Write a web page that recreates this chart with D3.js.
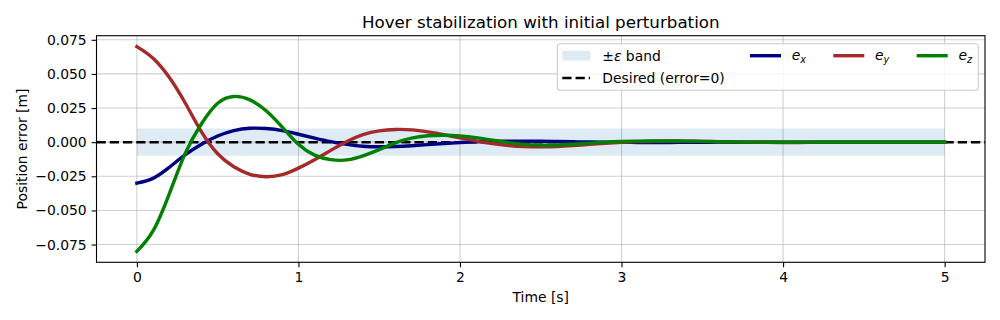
<!DOCTYPE html>
<html>
<head>
<meta charset="utf-8">
<script src="https://cdn.jsdelivr.net/npm/d3@7"></script>
<style>
  body { margin: 0; background: #fff; }
  svg { font-family: "DejaVu Sans", sans-serif; }
</style>
</head>
<body>
<svg id="chart" width="1000" height="320"></svg>
<script>
"use strict";

// time samples [s]
var times = d3.range(0, 51).map(function(i) { return i / 10; });

// position errors [m]
var ex = [-0.0300, -0.0265, -0.0185, -0.0092, -0.0015, 0.0045, 0.0085, 0.0102, 0.0100, 0.0085,
  0.0058, 0.0030, 0.0004, -0.0016, -0.0030, -0.0034, -0.0032, -0.0026, -0.0018, -0.0010,
  -0.0003, 0.0003, 0.0006, 0.0008, 0.0008, 0.0007, 0.0005, 0.0003, 0.0001, 0.0000,
  -0.0001, -0.0002, -0.0002, -0.0002, -0.0001, -0.0001, 0.0000, 0.0000, 0.0000, 0.0000,
  0.0000, 0.0000, 0.0000, 0.0000, 0.0000, 0.0000, 0.0000, 0.0000, 0.0000, 0.0000, 0.0000];

var ey = [0.0700, 0.0615, 0.0475, 0.0285, 0.0075, -0.0085, -0.0180, -0.0235, -0.0253, -0.0238,
  -0.0190, -0.0128, -0.0060, 0.0005, 0.0055, 0.0083, 0.0093, 0.0090, 0.0075, 0.0055,
  0.0032, 0.0010, -0.0010, -0.0024, -0.0032, -0.0034, -0.0032, -0.0025, -0.0016, -0.0008,
  -0.0001, 0.0004, 0.0007, 0.0008, 0.0008, 0.0006, 0.0004, 0.0002, 0.0000, -0.0001,
  -0.0002, -0.0002, -0.0001, -0.0001, 0.0000, 0.0000, 0.0000, 0.0000, 0.0000, 0.0000, 0.0000];

var ez = [-0.0800, -0.0650, -0.0380, -0.0080, 0.0135, 0.0285, 0.0335, 0.0310, 0.0230, 0.0110,
  -0.0015, -0.0095, -0.0128, -0.0130, -0.0100, -0.0055, -0.0005, 0.0030, 0.0047, 0.0051,
  0.0046, 0.0033, 0.0015, -0.0003, -0.0016, -0.0022, -0.0021, -0.0015, -0.0008, 0.0000,
  0.0005, 0.0008, 0.0009, 0.0009, 0.0008, 0.0006, 0.0004, 0.0002, 0.0001, 0.0000,
  -0.0001, 0.0000, 0.0000, 0.0000, 0.0000, 0.0000, 0.0000, 0.0000, 0.0000, 0.0000, 0.0000];

var epsilon = 0.01;
var xTicks = [0, 1, 2, 3, 4, 5];
var yTicks = [-0.075, -0.05, -0.025, 0, 0.025, 0.05, 0.075];

var seriesList = [
  {sub: "x", values: ex, color: "#000080"},
  {sub: "y", values: ey, color: "#a52a2a"},
  {sub: "z", values: ez, color: "#008000"}
];

var svg = d3.select("#chart");
var plotLeft = 96.5, plotRight = 985, plotTop = 35.7, plotBottom = 262.3;

var x = d3.scaleLinear().domain([-0.25, 5.25]).range([plotLeft, plotRight]);
var y = d3.scaleLinear().domain([-0.088, 0.078]).range([plotBottom, plotTop]);

// grid
var grid = svg.append("g");
grid.selectAll(".gx").data(xTicks).enter().append("line")
  .attr("x1", function(d) { return x(d); }).attr("x2", function(d) { return x(d); })
  .attr("y1", plotTop).attr("y2", plotBottom)
  .attr("stroke", "#b0b0b0").attr("stroke-opacity", 0.6).attr("stroke-width", 1.1);
grid.selectAll(".gy").data(yTicks).enter().append("line")
  .attr("x1", plotLeft).attr("x2", plotRight)
  .attr("y1", function(d) { return y(d); }).attr("y2", function(d) { return y(d); })
  .attr("stroke", "#b0b0b0").attr("stroke-opacity", 0.6).attr("stroke-width", 1.1);

// tolerance band
svg.append("rect")
  .attr("x", x(0)).attr("width", x(5) - x(0))
  .attr("y", y(epsilon)).attr("height", y(-epsilon) - y(epsilon))
  .attr("fill", "#1f77b4").attr("fill-opacity", 0.15);

// desired line
svg.append("line")
  .attr("x1", plotLeft).attr("x2", plotRight).attr("y1", y(0)).attr("y2", y(0))
  .attr("stroke", "#000").attr("stroke-width", 2.5).attr("stroke-dasharray", "9.25,4");

var line = d3.line()
  .x(function(d) { return x(d[0]); })
  .y(function(d) { return y(d[1]); })
  .curve(d3.curveNatural);

seriesList.forEach(function(s) {
  svg.append("path")
    .datum(times.map(function(t, i) { return [t, s.values[i]]; }))
    .attr("d", line)
    .attr("fill", "none")
    .attr("stroke", s.color)
    .attr("stroke-width", 3.4)
    .attr("stroke-linejoin", "round")
    .attr("stroke-linecap", "square");
});

// axes
var xAxis = svg.append("g").attr("transform", "translate(0," + plotBottom + ")")
  .call(d3.axisBottom(x).tickValues(xTicks).tickSize(4.9).tickPadding(4.9).tickFormat(d3.format("d")));
var yAxis = svg.append("g").attr("transform", "translate(" + plotLeft + ",0)")
  .call(d3.axisLeft(y).tickValues(yTicks).tickSize(4.9).tickPadding(4.9)
    .tickFormat(function(d) { return d3.format(".3f")(d).replace("-", "\u2212"); }));
[xAxis, yAxis].forEach(function(a) {
  a.select(".domain").remove();
  a.selectAll("line").attr("stroke", "#000").attr("stroke-width", 1.1);
  a.selectAll("text").attr("font-size", "13.9px").attr("fill", "#000")
    .attr("font-family", "DejaVu Sans, sans-serif");
});

svg.append("rect")
  .attr("x", plotLeft).attr("y", plotTop).attr("width", plotRight - plotLeft).attr("height", plotBottom - plotTop)
  .attr("fill", "none").attr("stroke", "#000").attr("stroke-width", 1.1);

// labels
svg.append("text").text("Hover stabilization with initial perturbation")
  .attr("x", (plotLeft + plotRight) / 2).attr("y", 28).attr("text-anchor", "middle")
  .attr("font-size", "16.7px");
svg.append("text").text("Time [s]")
  .attr("x", (plotLeft + plotRight) / 2).attr("y", 302).attr("text-anchor", "middle")
  .attr("font-size", "13.9px");
svg.append("text").text("Position error [m]")
  .attr("transform", "translate(27," + ((plotTop + plotBottom) / 2) + ") rotate(-90)")
  .attr("text-anchor", "middle").attr("font-size", "13.9px");

// legend
var lg = svg.append("g");
lg.append("rect")
  .attr("x", 557.3).attr("y", 43.7).attr("width", 421).attr("height", 46.6)
  .attr("rx", 3).attr("fill", "#fff").attr("fill-opacity", 0.8)
  .attr("stroke", "#cccccc").attr("stroke-width", 1.1);
var row1 = 55.7, row2 = 78;

lg.append("rect").attr("x", 562.3).attr("y", row1 - 4.9).attr("width", 27.8).attr("height", 9.7)
  .attr("fill", "#1f77b4").attr("fill-opacity", 0.15);
var t1 = lg.append("text").attr("x", 602.3).attr("y", row1 + 5).attr("font-size", "13.9px");
t1.append("tspan").text("\u00b1");
t1.append("tspan").text("\u03b5").attr("font-style", "italic");
t1.append("tspan").text(" band");

lg.append("line").attr("x1", 562.3).attr("x2", 590).attr("y1", row2).attr("y2", row2)
  .attr("stroke", "#000").attr("stroke-width", 2.5).attr("stroke-dasharray", "9.25,4");
lg.append("text").text("Desired (error=0)").attr("x", 602.3).attr("y", row2 + 5).attr("font-size", "13.9px");

var legendX = [750, 833.3, 916.7];
seriesList.forEach(function(s, i) {
  lg.append("line").attr("x1", legendX[i]).attr("x2", legendX[i] + 31).attr("y1", row1).attr("y2", row1)
    .attr("stroke", s.color).attr("stroke-width", 3.4);
  var t = lg.append("text").attr("x", legendX[i] + 41.7).attr("y", row1 + 4).attr("font-size", "13.9px")
    .attr("font-style", "italic");
  t.append("tspan").text("e");
  t.append("tspan").text(s.sub).attr("font-size", "9.7px").attr("dy", 3);
});
</script>
</body>
</html>
